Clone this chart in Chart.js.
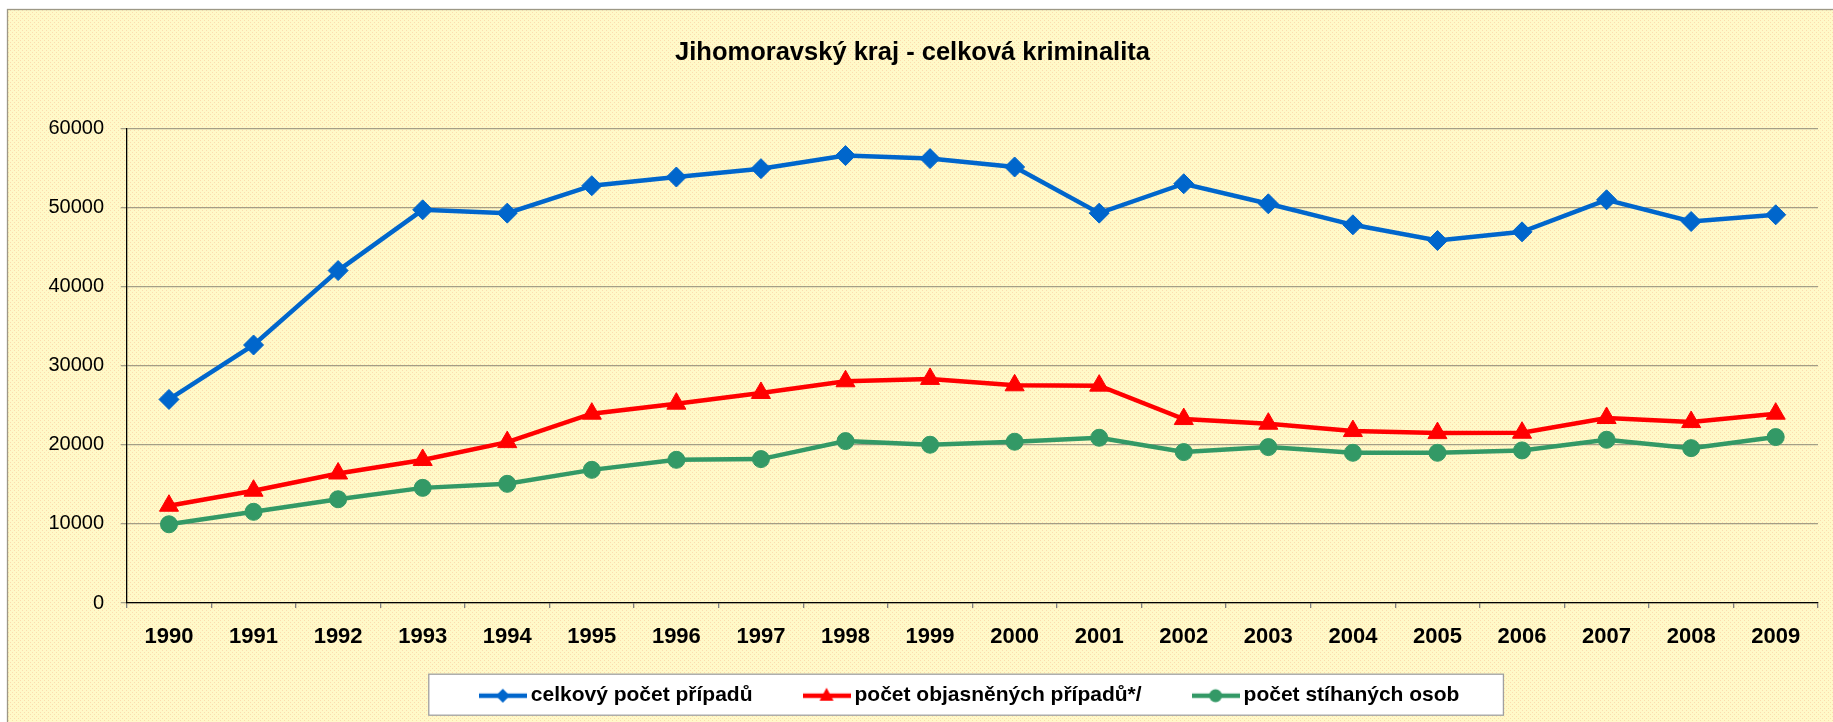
<!DOCTYPE html>
<html>
<head>
<meta charset="utf-8">
<script src="https://cdn.jsdelivr.net/npm/chart.js@4.4.1/dist/chart.umd.min.js"></script>
<style>
  body { margin: 0; background: #fff; }
  canvas { display: block; }
</style>
</head>
<body>
<canvas id="myChart" width="1833" height="722"></canvas>
<script>
// data
const roky = ['1990','1991','1992','1993','1994','1995','1996','1997','1998','1999',
              '2000','2001','2002','2003','2004','2005','2006','2007','2008','2009'];
const celkovyPocet = [25760, 32650, 42070, 49760, 49340, 52810, 53910, 54970, 56620, 56240,
                      55180, 49340, 53060, 50520, 47860, 45870, 46970, 51030, 48280, 49130];
const objasnenePripady = [12310, 14210, 16390, 18100, 20360, 23960, 25230, 26580, 28060, 28360,
                          27550, 27510, 23280, 22690, 21760, 21500, 21550, 23410, 22900, 23960];
const stihaneOsoby = [9960, 11540, 13130, 14570, 15080, 16850, 18120, 18210, 20490, 20030,
                      20410, 20910, 19100, 19730, 19010, 19010, 19310, 20660, 19600, 21000];
const nazvySerii = ['celkový počet případů', 'počet objasněných případů*/', 'počet stíhaných osob'];
const titulek = 'Jihomoravský kraj - celková kriminalita';
const osaYmin = 0, osaYmax = 60000, osaYkrok = 10000;

const barvy = ['#0066CC', '#FF0000', '#339966'];
const tvary = ['rectRot', 'triangle', 'circle'];
const velikosti = [10, 11, 8.5];
const pismo = '"Liberation Sans", Arial, sans-serif';

// ikonka do legendy: cara se znackou uprostred (jako v excelu)
const ikona = (barva, tvar) => {
    const c = document.createElement('canvas');
    c.width = 48; c.height = 22;
    const g = c.getContext('2d');
    g.strokeStyle = barva; g.fillStyle = barva; g.lineWidth = 4.5;
    g.beginPath(); g.moveTo(0, 11); g.lineTo(48, 11); g.stroke();
    g.beginPath();
    if (tvar === 'rectRot') {
        g.moveTo(24, 4); g.lineTo(31, 11); g.lineTo(24, 18); g.lineTo(17, 11);
    } else if (tvar === 'triangle') {
        g.moveTo(24, 3); g.lineTo(31, 16); g.lineTo(17, 16);
    } else {
        g.arc(24, 11, 6.5, 0, Math.PI * 2);
    }
    g.closePath(); g.fill();
    return c;
};
const ikony = barvy.map((b, i) => ikona(b, tvary[i]));

// teckovane pozadi
const vzorek = () => {
    const c = document.createElement('canvas');
    c.width = 4; c.height = 4;
    const g = c.getContext('2d');
    g.fillStyle = '#FFF9C8'; g.fillRect(0, 0, 4, 4);
    g.fillStyle = '#FCDCAE'; g.fillRect(0, 0, 1, 1); g.fillRect(2, 2, 1, 1);
    return c;
};

const pozadi = {
    id: 'pozadi',
    afterLayout(chart) {
        // legenda vycentrovana pod plochou grafu, posunuta pod popisky osy x
        const lg = chart.legend;
        lg.left = chart.chartArea.left;
        lg.right = chart.chartArea.right;
        lg.top = chart.chartArea.bottom + 25.7;
        lg.height = 92;
        lg.bottom = lg.top + lg.height;
    },
    beforeDraw(chart) {
        const ctx = chart.ctx;
        ctx.save();
        ctx.fillStyle = ctx.createPattern(vzorek(), 'repeat');
        ctx.fillRect(7, 9, chart.width - 7, chart.height - 9);
        ctx.strokeStyle = '#9C9886'; ctx.lineWidth = 1.3;
        ctx.strokeRect(7.5, 9.5, chart.width, chart.height);

        // ramecek legendy
        const lg = chart.legend;
        const p = lg.options.labels.padding;
        const rozpeti = lg.lineWidths[0] - p;
        const start = (lg.left + lg.right) / 2 - rozpeti / 2;
        const yText = lg.top + p + 10.5;
        const x0 = start - 56.5, x1 = start + rozpeti + 44;
        ctx.fillStyle = '#ffffff';
        ctx.fillRect(x0, yText - 21.5, x1 - x0, 41);
        ctx.strokeStyle = '#A0A0A0'; ctx.lineWidth = 1.3;
        ctx.strokeRect(x0, yText - 21.5, x1 - x0, 41);
        ctx.restore();
    }
};

const serie = [celkovyPocet, objasnenePripady, stihaneOsoby];

const data = {
    labels: roky,
    datasets: serie.map((hodnoty, i) => ({
        label: nazvySerii[i],
        data: hodnoty,
        borderColor: barvy[i],
        backgroundColor: barvy[i],
        borderWidth: 4.5,
        pointStyle: tvary[i],
        pointRadius: velikosti[i],
        pointBorderWidth: 1,
        pointBackgroundColor: barvy[i],
        pointBorderColor: barvy[i],
        tension: 0,
        clip: false
    }))
};

const config = {
    type: 'line',
    data: data,
    options: {
        responsive: false,
        animation: false,
        devicePixelRatio: 1,
        layout: { padding: { top: 9, left: 7, right: 15, bottom: 14 } },
        plugins: {
            title: {
                display: true,
                text: titulek,
                color: '#000',
                font: { family: pismo, size: 25.5, weight: 'bold' },
                padding: { top: 28.2, bottom: 61.1 }
            },
            legend: {
                position: 'bottom',
                maxHeight: 50,
                labels: {
                    color: '#000',
                    font: { family: pismo, size: 21, weight: 'bold' },
                    usePointStyle: true,
                    pointStyleWidth: 35,
                    padding: 56.5,
                    generateLabels(chart) {
                        const items = Chart.defaults.plugins.legend.labels.generateLabels(chart);
                        items.forEach((it, i) => { it.pointStyle = ikony[i]; });
                        return items;
                    }
                }
            },
            tooltip: { enabled: false }
        },
        scales: {
            x: {
                offset: true,
                afterFit: s => { s.height = 55; },
                grid: { offset: true, drawOnChartArea: false, drawTicks: true, tickLength: 5, tickColor: '#808080', lineWidth: 1.3 },
                border: { color: '#000', width: 1.3 },
                ticks: {
                    color: '#000', padding: 15.3, maxRotation: 0, autoSkip: false,
                    font: { family: pismo, size: 22, weight: 'bold' }
                }
            },
            y: {
                min: osaYmin,
                max: osaYmax,
                afterFit: s => { s.width = 119.7; },
                grid: { color: '#A39E86', lineWidth: 1.3, tickLength: 6, tickColor: '#A39E86' },
                border: { color: '#000', width: 1.3 },
                ticks: {
                    stepSize: osaYkrok, color: '#000', padding: 16.7,
                    font: { family: pismo, size: 20 },
                    callback: v => String(v)
                }
            }
        }
    },
    plugins: [pozadi]
};

const myChart = new Chart(document.getElementById('myChart'), config);
</script>
</body>
</html>
